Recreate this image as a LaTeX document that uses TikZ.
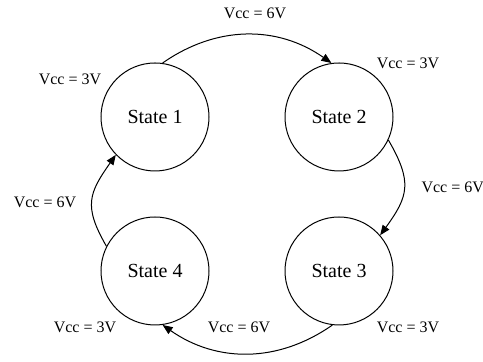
\documentclass[tikz,border=0pt]{standalone}
\usepackage{fontspec}
\setmainfont{Liberation Serif}
\usetikzlibrary{arrows.meta}

\begin{document}
\begin{tikzpicture}[x=0.5pt,y=0.5pt,line width=0.5pt,
    state/.style={draw=black,circle,minimum size=54pt,inner sep=0pt,font=\fontsize{10}{12}\selectfont},
    vcc/.style={inner sep=0pt,font=\fontsize{8}{10}\selectfont},
    trans/.style={-{Triangle[length=5pt,width=4pt]}}]
      \useasboundingbox (0,0) rectangle (483,362);
      % the four states
      \node[state] (s1) at (155,245) {State 1};
      \node[state] (s2) at (339,245) {State 2};
      \node[state] (s3) at (339, 91) {State 3};
      \node[state] (s4) at (155, 91) {State 4};
      % transitions
      \draw[trans] (s1.82)  to[out=35,in=145]  (s2.98);
      \draw[trans] (s2.-25) to[out=-60,in=54,looseness=1.3] (s3.41);
      \draw[trans] (s3.263) to[out=-145,in=-35] (s4.278);
      \draw[trans] (s4.153) to[out=120,in=-125,looseness=1.3] (s1.224);
      % supply voltages
      \node[vcc] (v12) at (255,349) {Vcc = 6V};
      \node[vcc] (v23) [anchor=west] at (421,175) {Vcc = 6V};
      \node[vcc] (v34) at (239, 35) {Vcc = 6V};
      \node[vcc] (v41) at ( 45,160) {Vcc = 6V};
      \node[vcc] (v1)  at ( 70,283) {Vcc = 3V};
      \node[vcc] (v2)  at (408,299) {Vcc = 3V};
      \node[vcc] (v3)  at (408, 35) {Vcc = 3V};
      \node[vcc] (v4)  at ( 85, 35) {Vcc = 3V};
\end{tikzpicture}
\end{document}
